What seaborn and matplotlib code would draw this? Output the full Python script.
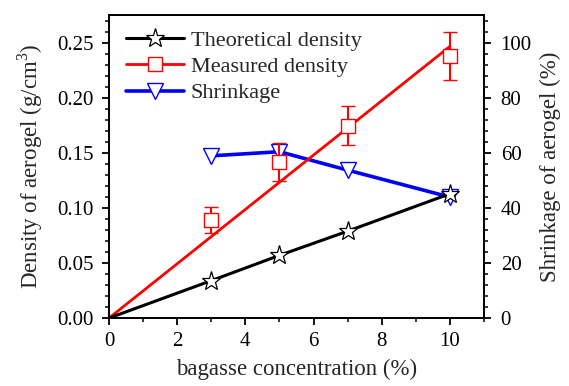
import matplotlib
matplotlib.use("Agg")
import matplotlib.pyplot as plt
import seaborn as sns
import numpy as np
from matplotlib.lines import Line2D
from matplotlib.ticker import MultipleLocator

sns.set_theme(style="ticks")
plt.rcParams['font.family'] = ['Liberation Serif', 'DejaVu Serif']
plt.rcParams['mathtext.fontset'] = 'custom'
plt.rcParams['mathtext.rm'] = 'Liberation Serif'

# Data
conc_theory = [0, 3, 5, 7, 10]
theoretical_density = [0, 0.034, 0.057, 0.079, 0.113]

conc_measured = [3, 5, 7, 10]
measured_density = [0.089, 0.142, 0.175, 0.238]
measured_err = [0.012, 0.017, 0.018, 0.022]

fit_x = [0, 10]
fit_y = [0, 0.247]

conc_shrink = [3, 5, 7, 10]
shrinkage = [59.0, 60.5, 53.8, 44.0]

labels = ["Theoretical density", "Measured density", "Shrinkage"]

fig = plt.figure(figsize=(5.69, 3.86), dpi=100)
ax = fig.add_axes([0.1916, 0.176, 0.659, 0.785])
ax2 = ax.twinx()

# Shrinkage on right axis
sns.lineplot(x=conc_shrink, y=shrinkage, ax=ax2, color='#0000ff', linewidth=2.6,
             marker='v', markersize=12, markerfacecolor='white',
             markeredgecolor='#0000ff', markeredgewidth=1.0)

# Measured density fit line + markers with error bars
sns.lineplot(x=fit_x, y=fit_y, ax=ax, color='#ff0000', linewidth=2.0)
ax.errorbar(conc_measured, measured_density, yerr=measured_err, fmt='s',
            color='#ff0000', markersize=10, markerfacecolor='white',
            markeredgecolor='#ff0000', markeredgewidth=1.0, capsize=5,
            elinewidth=1.5, capthick=1.5, zorder=3)

# Theoretical density
sns.lineplot(x=conc_theory, y=theoretical_density, ax=ax, color='black', linewidth=2.2,
             marker='*', markersize=14, markerfacecolor='white',
             markeredgecolor='black', markeredgewidth=0.9, markevery=[1, 2, 3, 4],
             zorder=4)

ax.set_zorder(ax2.get_zorder() + 1)
ax.patch.set_visible(False)

ax.set_xlim(0, 11)
ax.set_ylim(0, 0.2755)
ax2.set_ylim(0, 110.2)

ax.xaxis.set_major_locator(MultipleLocator(2))
ax.xaxis.set_minor_locator(MultipleLocator(1))
ax.yaxis.set_major_locator(MultipleLocator(0.05))
ax.yaxis.set_minor_locator(MultipleLocator(0.01))
ax2.yaxis.set_major_locator(MultipleLocator(20))
ax2.yaxis.set_minor_locator(MultipleLocator(4))
ax.yaxis.set_major_formatter(matplotlib.ticker.FormatStrFormatter('%.2f'))

for a in (ax, ax2):
    for s in a.spines.values():
        s.set_linewidth(1.3)
        s.set_color('black')
    a.tick_params(which='major', direction='out', length=5, width=1.3, labelsize=15, colors='black')
    a.tick_params(which='minor', direction='out', length=3, width=1.1, colors='black')
ax.tick_params(axis='y', which='major', pad=6)
ax.tick_params(axis='x', which='major', pad=5)
ax2.tick_params(axis='y', which='major', pad=7)

ax.set_xlabel("bagasse concentration (%)", fontsize=16.5, labelpad=6)
ax.set_ylabel("Density of aerogel (g/cm$^3$)", fontsize=16.5, labelpad=9)
ax2.set_ylabel("Shrinkage of aerogel (%)", fontsize=16.5, labelpad=6)

handles = [
    Line2D([], [], color='black', linewidth=2.2, marker='*', markersize=14,
           markerfacecolor='white', markeredgecolor='black', markeredgewidth=0.9),
    Line2D([], [], color='#ff0000', linewidth=2.0, marker='s', markersize=10,
           markerfacecolor='white', markeredgecolor='#ff0000', markeredgewidth=1.0),
    Line2D([], [], color='#0000ff', linewidth=2.6, marker='v', markersize=12,
           markerfacecolor='white', markeredgecolor='#0000ff', markeredgewidth=1.0),
]
ax.legend(handles, labels, loc='upper left', frameon=False, fontsize=16,
          handlelength=2.6, labelspacing=0.25, handletextpad=0.3,
          borderaxespad=0.3, bbox_to_anchor=(0.005, 1.0))

fig.savefig("out.png", dpi=100)
